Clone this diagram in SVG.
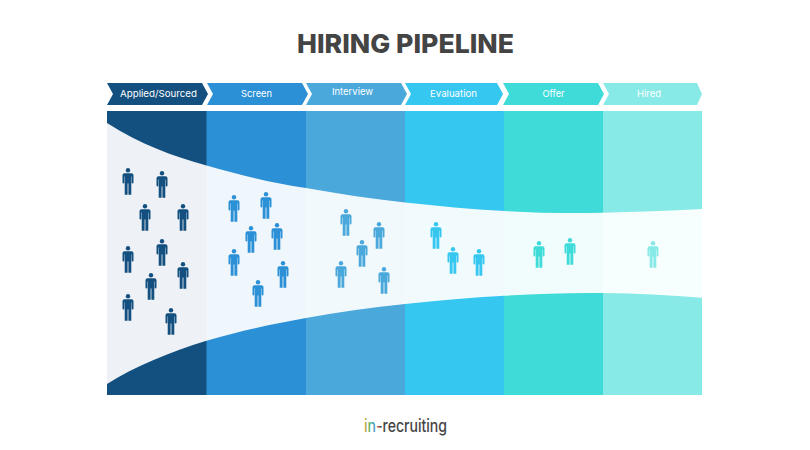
<svg xmlns="http://www.w3.org/2000/svg" width="810" height="450" viewBox="0 0 810 450">
<style>
.t{font-family:"Inter","Liberation Sans",sans-serif;fill:#444;font-weight:800;font-size:26px}
.h{font-family:"Inter","Liberation Sans",sans-serif;fill:#fff;font-size:9.500px;font-weight:400;text-anchor:middle}
.c1{fill:#14507f}.c2{fill:#2b90d6}.c3{fill:#4aa8db}.c4{fill:#36c7f0}.c5{fill:#3edbd9}.c6{fill:#87eae7}
.l{font-family:"Inter","Liberation Sans",sans-serif;font-size:17px;font-weight:500;fill:url(#lg)}
</style>
<defs>
<symbol id="p" viewBox="0 0 11 27" width="11" height="27" overflow="visible">
<circle cx="5.500" cy="2.200" r="2.200"/>
<path d="M2 5.200h7a2 2 0 0 1 2 2V14.500a.9.9 0 0 1-1.800 0V8.500h-.4V26.800H5.900V15.500h-.8V26.800H2.200V8.500h-.4V14.500a.9.9 0 0 1-1.800 0V7.200a2 2 0 0 1 2-2z"/>
</symbol>
<linearGradient id="lg" gradientUnits="userSpaceOnUse" x1="364" y1="0" x2="447" y2="0">
<stop offset="0" stop-color="#e8a33d"/><stop offset=".07" stop-color="#5fb86a"/><stop offset=".12" stop-color="#3aa6c9"/><stop offset=".17" stop-color="#e2604f"/><stop offset=".2" stop-color="#444"/><stop offset="1" stop-color="#444"/>
</linearGradient>
</defs>
<rect width="810" height="450" fill="#fff"/>
<text class="t" x="297" y="53" textLength="217" lengthAdjust="spacingAndGlyphs">HIRING PIPELINE</text>
<g id="stage-applied">
<path class="c1" d="M107 83H202L208 94L202 105H107L113 94Z"/>
<text class="h" x="158.500" y="96.500" textLength="77" lengthAdjust="spacingAndGlyphs">Applied/Sourced</text>
<rect class="c1" x="107" y="111" width="100" height="284"/>
</g>
<g id="stage-screen">
<path class="c2" d="M207 83H302L308 94L302 105H207L213 94Z"/>
<text class="h" x="256.500" y="96.500" textLength="31" lengthAdjust="spacingAndGlyphs">Screen</text>
<rect class="c2" x="206.500" y="111" width="99.500" height="284"/>
</g>
<g id="stage-interview">
<path class="c3" d="M306 83H401L407 94L401 105H306L312 94Z"/>
<text class="h" x="352.500" y="95" textLength="41" lengthAdjust="spacingAndGlyphs">Interview</text>
<rect class="c3" x="306" y="111" width="99" height="284"/>
</g>
<g id="stage-evaluation">
<path class="c4" d="M405 83H497L503 94L497 105H405L411 94Z"/>
<text class="h" x="453.500" y="96.500" textLength="47" lengthAdjust="spacingAndGlyphs">Evaluation</text>
<rect class="c4" x="405" y="111" width="99" height="284"/>
</g>
<g id="stage-offer">
<path class="c5" d="M503 83H598L604 94L598 105H503L509 94Z"/>
<text class="h" x="553.500" y="96.500" textLength="22" lengthAdjust="spacingAndGlyphs">Offer</text>
<rect class="c5" x="504" y="111" width="99" height="284"/>
</g>
<g id="stage-hired">
<path class="c6" d="M603 83H697L702 94L697 105H603L609 94Z"/>
<text class="h" x="649" y="96.500" textLength="24" lengthAdjust="spacingAndGlyphs">Hired</text>
<rect class="c6" x="603" y="111" width="99" height="284"/>
</g>
<path id="funnel" fill="#fff" fill-opacity=".93" d="M107 123C140 144 172 156 206.500 165.500C240 175 272 183 306 188C340 194 372 199 405 202.500C438 206 471 209.500 504 211C537 213 570 213.500 603 212.700C636 212 669 211 702 209V297.700C669 295 636 293.500 603 293C570 292.500 537 294 504 295.700C471 297.500 438 300.500 405 304C372 307.500 339 312 306 318C272 324 240 331 206.500 340.700C170 352 135 366 107 384Z"/>
<g transform="translate(-.5 0)">
<g id="people-applied" class="c1">
<use id="a1" href="#p" x="123" y="168"/><use id="a2" href="#p" x="157" y="171"/><use id="a3" href="#p" x="140" y="204"/><use id="a4" href="#p" x="178" y="204"/><use id="a5" href="#p" x="123" y="246"/><use id="a6" href="#p" x="157" y="239"/><use id="a7" href="#p" x="178" y="262"/><use id="a8" href="#p" x="146" y="273"/><use id="a9" href="#p" x="123" y="294"/><use id="a10" href="#p" x="166" y="308"/>
</g>
<g id="people-screen" class="c2">
<use id="s1" href="#p" x="229" y="195"/><use id="s2" href="#p" x="261" y="192"/><use id="s3" href="#p" x="246" y="226"/><use id="s4" href="#p" x="272" y="223"/><use id="s5" href="#p" x="229" y="249"/><use id="s6" href="#p" x="278" y="261"/><use id="s7" href="#p" x="253" y="280"/>
</g>
<g id="people-interview" class="c3">
<use id="i1" href="#p" x="341" y="209"/><use id="i2" href="#p" x="374" y="222"/><use id="i3" href="#p" x="357" y="240"/><use id="i4" href="#p" x="336" y="261"/><use id="i5" href="#p" x="379" y="267"/>
</g>
<g id="people-evaluation" class="c4">
<use id="e1" href="#p" x="431" y="222"/><use id="e2" href="#p" x="448" y="247"/><use id="e3" href="#p" x="474" y="249"/>
</g>
<g id="people-offer" class="c5">
<use id="o1" href="#p" x="534" y="241"/><use id="o2" href="#p" x="565" y="238"/>
</g>
<g id="people-hired" class="c6">
<use id="h1" href="#p" x="648" y="241"/>
</g>
</g>
<g id="logo">
<text class="l" x="364" y="432" textLength="83" lengthAdjust="spacingAndGlyphs">in-recruiting</text>
</g>
<g id="connectors"/>
</svg>
